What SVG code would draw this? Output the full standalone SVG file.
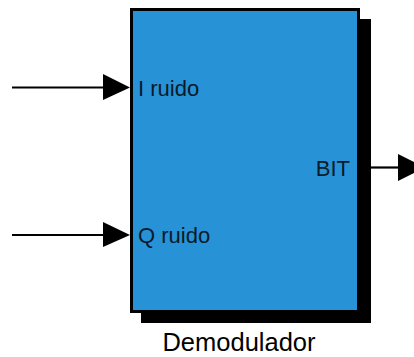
<svg xmlns="http://www.w3.org/2000/svg" width="414" height="357" viewBox="0 0 414 357">
  <defs>
    <style>
      .port { font-family: "Liberation Sans", Arial, sans-serif; font-size: 22px; fill: #0a1a2a; }
      .title { font-family: "Liberation Sans", Arial, sans-serif; font-size: 25.5px; fill: #000; }
      .wire { stroke: #000; stroke-width: 2.2; fill: none; }
      .head { fill: #000; }
    </style>
  </defs>
  <rect width="414" height="357" fill="#fff"/>

  <g id="demodulador">
    <!-- drop shadow -->
    <rect x="141" y="19" width="230" height="304" fill="#000"/>
    <!-- block body -->
    <rect x="131.5" y="9.5" width="227" height="302" fill="#2792d6" stroke="#000" stroke-width="3"/>
    <text class="port" x="138" y="96">I ruido</text>
    <text class="port" x="138" y="243">Q ruido</text>
    <text class="port" x="350" y="176" text-anchor="end">BIT</text>
    <text class="title" x="239" y="351" text-anchor="middle">Demodulador</text>
  </g>

  <g id="connectors">
    <line class="wire" x1="12" y1="87.5" x2="106" y2="87.5"/>
    <polygon class="head" points="103,74 130,87.5 103,100"/>
    <line class="wire" x1="12" y1="235" x2="106" y2="235"/>
    <polygon class="head" points="103,222 130,235 103,247"/>
    <line class="wire" x1="371" y1="167.5" x2="400" y2="167.5"/>
    <polygon class="head" points="398,154 425,167.5 398,181"/>
  </g>
</svg>
